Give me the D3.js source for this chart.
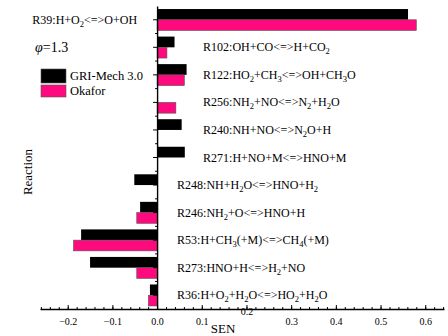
<html lang="en">
<head>
    <meta charset="UTF-8">
    <title>SEN Bargraph</title>
    <script src="https://d3js.org/d3.v7.min.js"></script>
    <style>
        body { margin: 0; background: #fff; }
        svg text { font-family: "Liberation Serif", serif; fill: #000; }
        .domain, .tick line { stroke: #000; }
    </style>
</head>
<body>
    <svg width="448" height="336"></svg>
    <script>
        // reactions, top to bottom ("_n" marks a subscript)
        var reactions = ["R39:H+O_2<=>O+OH", "R102:OH+CO<=>H+CO_2", "R122:HO_2+CH_3<=>OH+CH_3O",
            "R256:NH_2+NO<=>N_2+H_2O", "R240:NH+NO<=>N_2O+H", "R271:H+NO+M<=>HNO+M",
            "R248:NH+H_2O<=>HNO+H_2", "R246:NH_2+O<=>HNO+H", "R53:H+CH_3(+M)<=>CH_4(+M)",
            "R273:HNO+H<=>H_2+NO", "R36:H+O_2+H_2O<=>HO_2+H_2O"];
        var griValues = [0.5615, 0.039, 0.066, 0, 0.055, 0.062, -0.051, -0.038, -0.17, -0.15, -0.016];
        var okaforValues = [0.58, 0.022, 0.061, 0.042, 0, 0, 0, -0.0455, -0.187, -0.0455, -0.0195];
        var seriesNames = ["GRI-Mech 3.0", "Okafor"];
        var seriesColors = ["#000000", "#ff0a7e"];
        var majorTicks = [-0.2, -0.1, 0.0, 0.1, 0.2, 0.3, 0.4, 0.5, 0.6];

        var svg = d3.select("svg");
        var serif = "Liberation Serif";

        var x = d3.scaleLinear().domain([-0.262, 0.642]).range([40, 444]);
        var y = d3.scaleBand().domain(reactions).range([6, 309]).paddingInner(0.22).paddingOuter(0.11);
        var ySub = d3.scaleBand().domain(seriesNames).range([0, y.bandwidth()]);

        var data = [];
        reactions.forEach(function (r, i) {
            data.push({ r: r, s: seriesNames[0], v: griValues[i], c: seriesColors[0] });
            data.push({ r: r, s: seriesNames[1], v: okaforValues[i], c: seriesColors[1] });
        });

        svg.selectAll(".bar")
            .data(data.filter(function (d) { return d.v !== 0; }))
            .enter().append("rect")
            .attr("class", "bar")
            .attr("x", function (d) { return x(Math.min(0, d.v)); })
            .attr("y", function (d) { return y(d.r) + ySub(d.s); })
            .attr("width", function (d) { return Math.abs(x(d.v) - x(0)); })
            .attr("height", ySub.bandwidth())
            .attr("fill", function (d) { return d.c; })
            .attr("stroke", function (d) { return d.c === "#000000" ? "none" : "#555"; })
            .attr("stroke-width", 0.6);

        // x axis: minor + major ticks pointing inward
        svg.append("g")
            .attr("transform", "translate(0,309)")
            .call(d3.axisBottom(x).tickValues(d3.range(-26, 65, 2).map(function (v) { return v / 100; }))
                .tickSize(-2).tickSizeOuter(0).tickFormat(""))
            .call(function (g) { g.select(".domain").remove(); });

        var xAxis = svg.append("g")
            .attr("transform", "translate(0,309)")
            .call(d3.axisBottom(x).tickValues(majorTicks).tickSize(-4).tickSizeOuter(0)
                .tickPadding(9).tickFormat(d3.format(".1f")));
        xAxis.attr("font-family", serif);
        xAxis.select(".domain").attr("stroke-width", 1.4);
        // the 0.2 label sits raised in the original, next to "SEN"
        xAxis.selectAll("text").attr("font-size", 10)
            .attr("dy", function (d) { return d === 0.2 ? "-0.3em" : "0.71em"; });

        // y axis: major ticks at centres, minor at band edges
        var yAxis = svg.append("g")
            .attr("transform", "translate(" + x(0) + ",0)")
            .call(d3.axisLeft(y).tickSize(4).tickSizeOuter(0).tickFormat(""));
        yAxis.select(".domain").attr("stroke-width", 1.4);
        svg.selectAll(".minor-y")
            .data(reactions.slice(1))
            .enter().append("line")
            .attr("x1", x(0) - 2).attr("x2", x(0))
            .attr("y1", function (d) { return y(d) - y.step() * y.paddingInner() / 2; })
            .attr("y2", function (d) { return y(d) - y.step() * y.paddingInner() / 2; })
            .attr("stroke", "#000");

        // reaction labels
        function addLabel(t, str) {
            str.split(/_(\d)/).forEach(function (part, i) {
                if (part === "") return;
                var s = t.append("tspan").text(part);
                if (i % 2 === 1) s.attr("font-size", 8.5).attr("baseline-shift", "-3");
            });
        }
        reactions.forEach(function (r, i) {
            var maxV = Math.max(griValues[i], okaforValues[i]);
            var lx, anchor = "start";
            if (maxV > 0.3) { lx = x(0) - 20; anchor = "end"; }
            else if (maxV > 0) { lx = x(0) + 46; }
            else { lx = x(0) + 20; }
            var t = svg.append("text")
                .attr("x", lx)
                .attr("y", y(r) + y.bandwidth() / 2 + 4)
                .attr("font-family", serif)
                .attr("font-size", 12)
                .attr("text-anchor", anchor);
            addLabel(t, r);
        });

        // phi label
        var phi = svg.append("text").attr("x", 35).attr("y", 52).attr("font-size", 14).attr("font-family", serif);
        phi.append("tspan").attr("font-style", "italic").text("\u03c6");
        phi.append("tspan").text("=1.3");

        // legend
        var legend = svg.selectAll(".legend")
            .data(seriesNames)
            .enter().append("g")
            .attr("transform", function (d, i) { return "translate(41," + (69 + i * 16) + ")"; });
        legend.append("rect")
            .attr("width", 25).attr("height", function (d, i) { return i === 0 ? 14 : 12; })
            .attr("fill", function (d, i) { return seriesColors[i]; })
            .attr("stroke", "#555").attr("stroke-width", 0.6);
        legend.append("text")
            .attr("x", 29).attr("y", function (d, i) { return i === 0 ? 11 : 9.5; })
            .attr("font-family", serif)
            .attr("font-size", 12.5)
            .text(function (d) { return d; });

        // axis titles
        svg.append("text")
            .attr("transform", "translate(32,172) rotate(-90)")
            .attr("text-anchor", "middle")
            .attr("font-family", serif)
            .attr("font-size", 13)
            .text("Reaction");
        svg.append("text")
            .attr("x", 223).attr("y", 333)
            .attr("text-anchor", "middle")
            .attr("font-family", serif)
            .attr("font-size", 13)
            .text("SEN");
    </script>
</body>
</html>
